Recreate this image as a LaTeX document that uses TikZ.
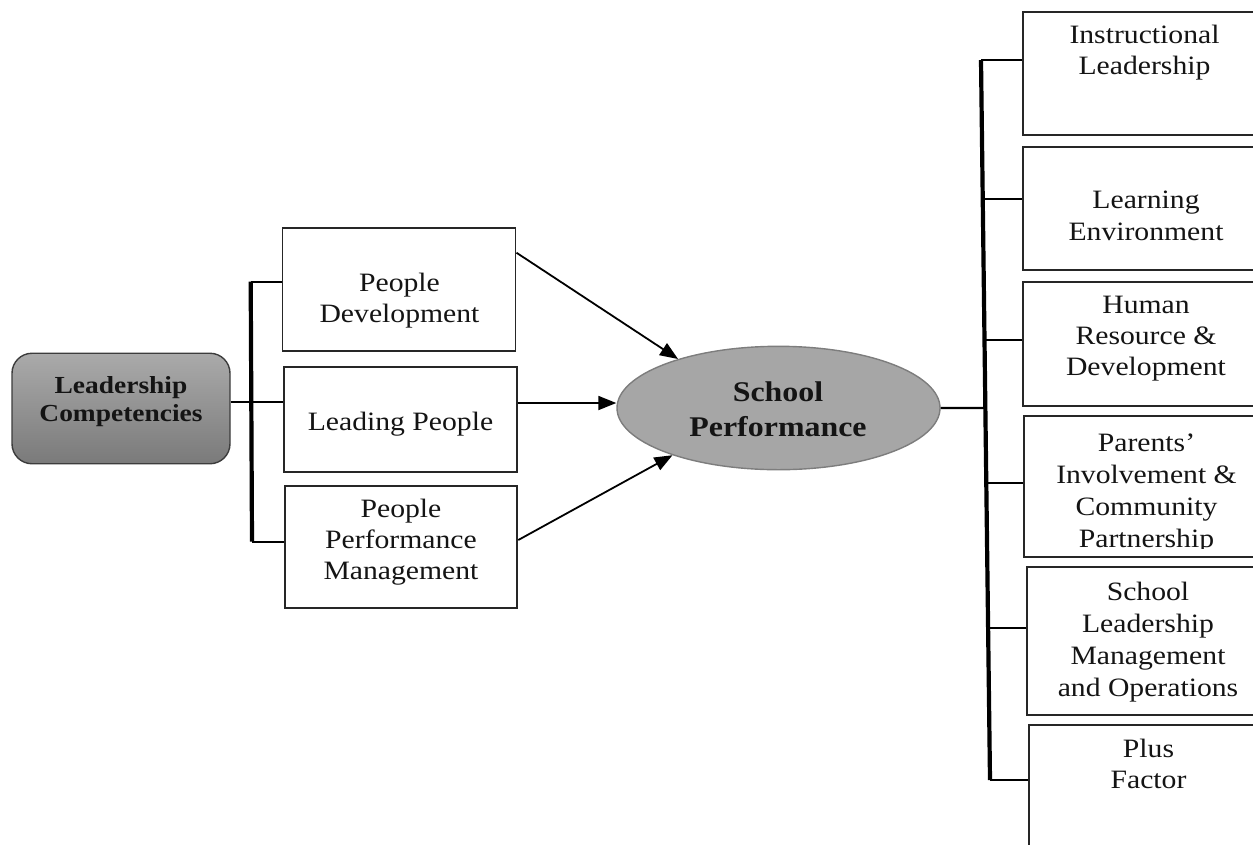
\documentclass[tikz,border=0pt]{standalone}
\usepackage{fontspec}
\setmainfont[FakeStretch=1.12]{Liberation Serif}
\usetikzlibrary{arrows.meta,calc,shapes.geometric}
\definecolor{boxline}{RGB}{38,38,38}
\definecolor{ink}{RGB}{20,20,20}
\definecolor{elfill}{RGB}{166,166,166}
\definecolor{elline}{RGB}{125,125,125}
\definecolor{ltop}{RGB}{170,170,170}
\definecolor{lbot}{RGB}{122,122,122}
\definecolor{lline}{RGB}{60,60,60}
\newcommand{\normtxt}{\fontsize{26.5}{31}\selectfont}
\begin{document}
\begin{tikzpicture}[x=1pt,y=-1pt,
  box/.style={draw=boxline, line width=1.9pt, fill=white, inner sep=0pt},
  txt/.style={font=\normtxt, text=ink, align=center, anchor=base, inner sep=0pt},
  bar/.style={draw=black, line width=4.2pt},
  twig/.style={draw=black, line width=2.2pt},
  arr/.style={draw=black, line width=1.8pt, -{Triangle[length=18pt,width=14pt]}}]
\useasboundingbox (0,0) rectangle (1253,844);
\clip (0,0) rectangle (1253,844);

% left root
\node[draw=lline, line width=1.4pt, rounded corners=20pt, top color=ltop, bottom color=lbot,
      minimum width=218, minimum height=110.5, inner sep=0pt] (lc) at (121,408.5) {};
\node[txt, font=\fontsize{24.5}{28}\selectfont\bfseries] (lct) at (121,421) {Leadership\\Competencies};

% middle boxes
\node[box, minimum width=233, minimum height=123.3] (pd) at (399,289.4) {};
\node[txt] (pdt) at (399.5,322.3) {People\\Development};
\node[box, minimum width=232.7, minimum height=105.6] (lp) at (400.3,419.5) {};
\node[txt] (lpt) at (400.5,430.7) {Leading People};
\node[box, minimum width=232.3, minimum height=122.3] (ppm) at (401.2,547.2) {};
\node[txt] (ppmt) at (401,579.3) {People\\Performance\\Management};

% ellipse
\node[ellipse, draw=elline, line width=1.4pt, fill=elfill, minimum width=323, minimum height=123.4, inner sep=0pt] (sp) at (778.5,408) {};
\node[txt, font=\fontsize{28.5}{35}\selectfont\bfseries] (spt) at (778,436.7) {School\\Performance};

% right boxes
\node[box, minimum width=242, minimum height=123.3] (r1) at (1144,73.35) {};
\node[txt] (r1t) at (1144.5,74) {Instructional\\Leadership};
\node[box, minimum width=242, minimum height=123.3] (r2) at (1144,208.35) {};
\node[txt, font=\fontsize{26.5}{32.5}\selectfont] (r2t) at (1146,240.7) {Learning\\Environment};
\node[box, minimum width=242, minimum height=124.3] (r3) at (1144,343.85) {};
\node[txt] (r3t) at (1146,375) {Human\\Resource \&\\Development};
\node[box, minimum width=241, minimum height=140.7] (r4) at (1144.5,486.35) {};
\begin{scope}
  \clip (1026,418) rectangle (1253,548);
  \node[txt, font=\fontsize{26.5}{32}\selectfont] (r4t) at (1146.5,547) {Parents’\\Involvement \&\\Community\\Partnership};
\end{scope}
\node[box, minimum width=238.3, minimum height=148.3] (r5) at (1145.85,640.85) {};
\node[txt, font=\fontsize{26.5}{32}\selectfont] (r5t) at (1148,696.7) {School\\Leadership\\Management\\and Operations};
\node[box, minimum width=236, minimum height=145] (r6) at (1147,797.5) {};
\node[txt] (r6t) at (1148.5,788.3) {Plus\\Factor};

% left bracket
\coordinate (lbt) at (250.7,281.7);
\coordinate (lbm) at (251.3,402);
\coordinate (lbb) at (252,541.7);
\draw[bar] (lbt) -- (lbb);
\draw[twig] (lc.east |- lbm) -- (lbm);
\draw[twig] (lbt) -- (pd.west |- lbt);
\draw[twig] (lbm) -- (lp.west |- lbm);
\draw[twig] (lbb) -- (ppm.west |- lbb);

% arrows
\draw[arr] ([yshift=36.7pt]pd.east) -- (sp.154.8);
\draw[arr] ([yshift=16.5pt]lp.east) -- ([yshift=5pt]sp.west);
\draw[arr] ([yshift=7.2pt]ppm.east) -- (sp.204.7);

% right bracket
\coordinate (rbt) at (981,60);
\coordinate (rbb) at (990,780);
\coordinate (rb2) at ($(rbt)!0.1935!(rbb)$);
\coordinate (rb3) at ($(rbt)!0.3889!(rbb)$);
\coordinate (rbm) at ($(rbt)!0.4833!(rbb)$);
\coordinate (rb4) at ($(rbt)!0.5879!(rbb)$);
\coordinate (rb5) at ($(rbt)!0.7893!(rbb)$);
\draw[bar] (rbt) -- (rbb);
\draw[twig] (sp.east) -- (rbm);
\draw[twig] (rbt) -- (r1.west |- rbt);
\draw[twig] (rb2) -- (r2.west |- rb2);
\draw[twig] (rb3) -- (r3.west |- rb3);
\draw[twig] (rb4) -- (r4.west |- rb4);
\draw[twig] (rb5) -- (r5.west |- rb5);
\draw[twig] (rbb) -- (r6.west |- rbb);
\end{tikzpicture}
\end{document}
